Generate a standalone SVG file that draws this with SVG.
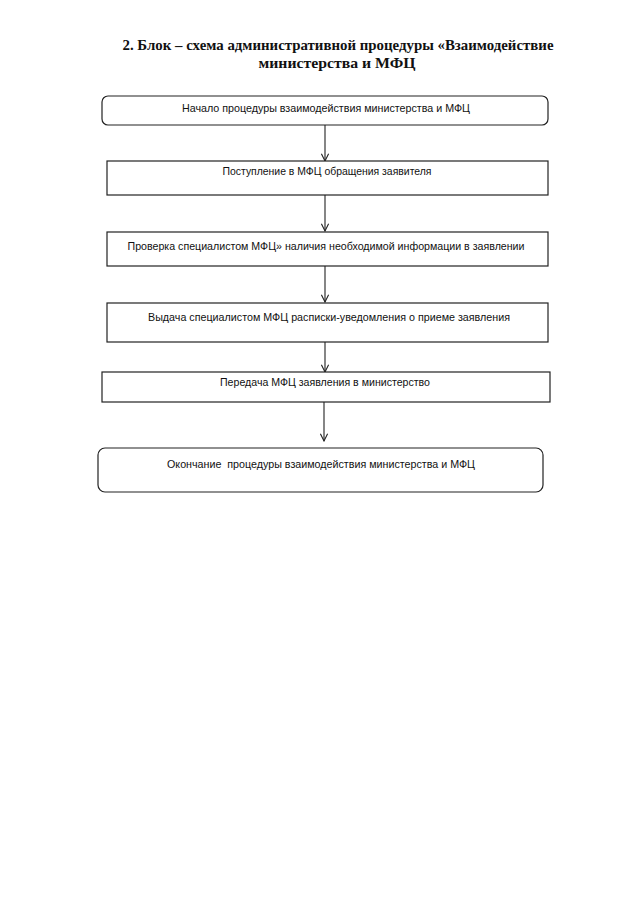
<svg xmlns="http://www.w3.org/2000/svg" width="635" height="905" viewBox="0 0 635 905">
<style>
.box{fill:#fff;stroke:#222;stroke-width:1.2}
.t{font-family:"Liberation Sans","Open Sans",sans-serif;font-size:10.5px;fill:#111;text-anchor:middle}
.h{font-family:"Liberation Serif","DejaVu Serif",serif;font-size:15px;font-weight:bold;fill:#111;text-anchor:middle}
.c{stroke:#222;stroke-width:1.1;fill:none}
</style>
<defs>
<marker id="arr" viewBox="0 0 10 10" refX="9" refY="5" markerWidth="9" markerHeight="9" orient="auto" markerUnits="userSpaceOnUse">
<path d="M1,1 L9,5 L1,9" fill="none" stroke="#222" stroke-width="1.2"/>
</marker>
</defs>
<rect width="635" height="905" fill="#fff"/>
<g id="title">
<text class="h" x="338" y="50" textLength="431" lengthAdjust="spacingAndGlyphs">2. Блок – схема административной процедуры «Взаимодействие</text>
<text class="h" x="337" y="68" textLength="157" lengthAdjust="spacingAndGlyphs">министерства и МФЦ</text>
</g>
<g id="connectors">
<line class="c" x1="325" y1="125" x2="325" y2="161" marker-end="url(#arr)"/>
<line class="c" x1="325" y1="195" x2="325" y2="231" marker-end="url(#arr)"/>
<line class="c" x1="325" y1="266" x2="325" y2="302" marker-end="url(#arr)"/>
<line class="c" x1="325" y1="342" x2="325" y2="372" marker-end="url(#arr)"/>
<line class="c" x1="324" y1="402" x2="324" y2="441" marker-end="url(#arr)"/>
</g>
<g id="n1">
<rect class="box" x="102" y="96" width="446" height="29" rx="6"/>
<text class="t" x="326" y="112" textLength="288" lengthAdjust="spacingAndGlyphs">Начало процедуры взаимодействия министерства и МФЦ</text>
</g>
<g id="n2">
<rect class="box" x="107" y="161" width="441" height="34"/>
<text class="t" x="327" y="175" textLength="209" lengthAdjust="spacingAndGlyphs">Поступление в МФЦ обращения заявителя</text>
</g>
<g id="n3">
<rect class="box" x="107" y="232" width="441" height="34"/>
<text class="t" x="326" y="250" textLength="397" lengthAdjust="spacingAndGlyphs">Проверка специалистом МФЦ» наличия необходимой информации в заявлении</text>
</g>
<g id="n4">
<rect class="box" x="107" y="303" width="441" height="39"/>
<text class="t" x="329" y="321" textLength="362" lengthAdjust="spacingAndGlyphs">Выдача специалистом МФЦ расписки-уведомления о приеме заявления</text>
</g>
<g id="n5">
<rect class="box" x="102" y="372" width="448" height="30"/>
<text class="t" x="325" y="386" textLength="210" lengthAdjust="spacingAndGlyphs">Передача МФЦ заявления в министерство</text>
</g>
<g id="n6">
<rect class="box" x="98" y="448" width="445" height="44" rx="7"/>
<text class="t" x="321" y="468" textLength="308" lengthAdjust="spacingAndGlyphs" xml:space="preserve">Окончание  процедуры взаимодействия министерства и МФЦ</text>
</g>
</svg>
